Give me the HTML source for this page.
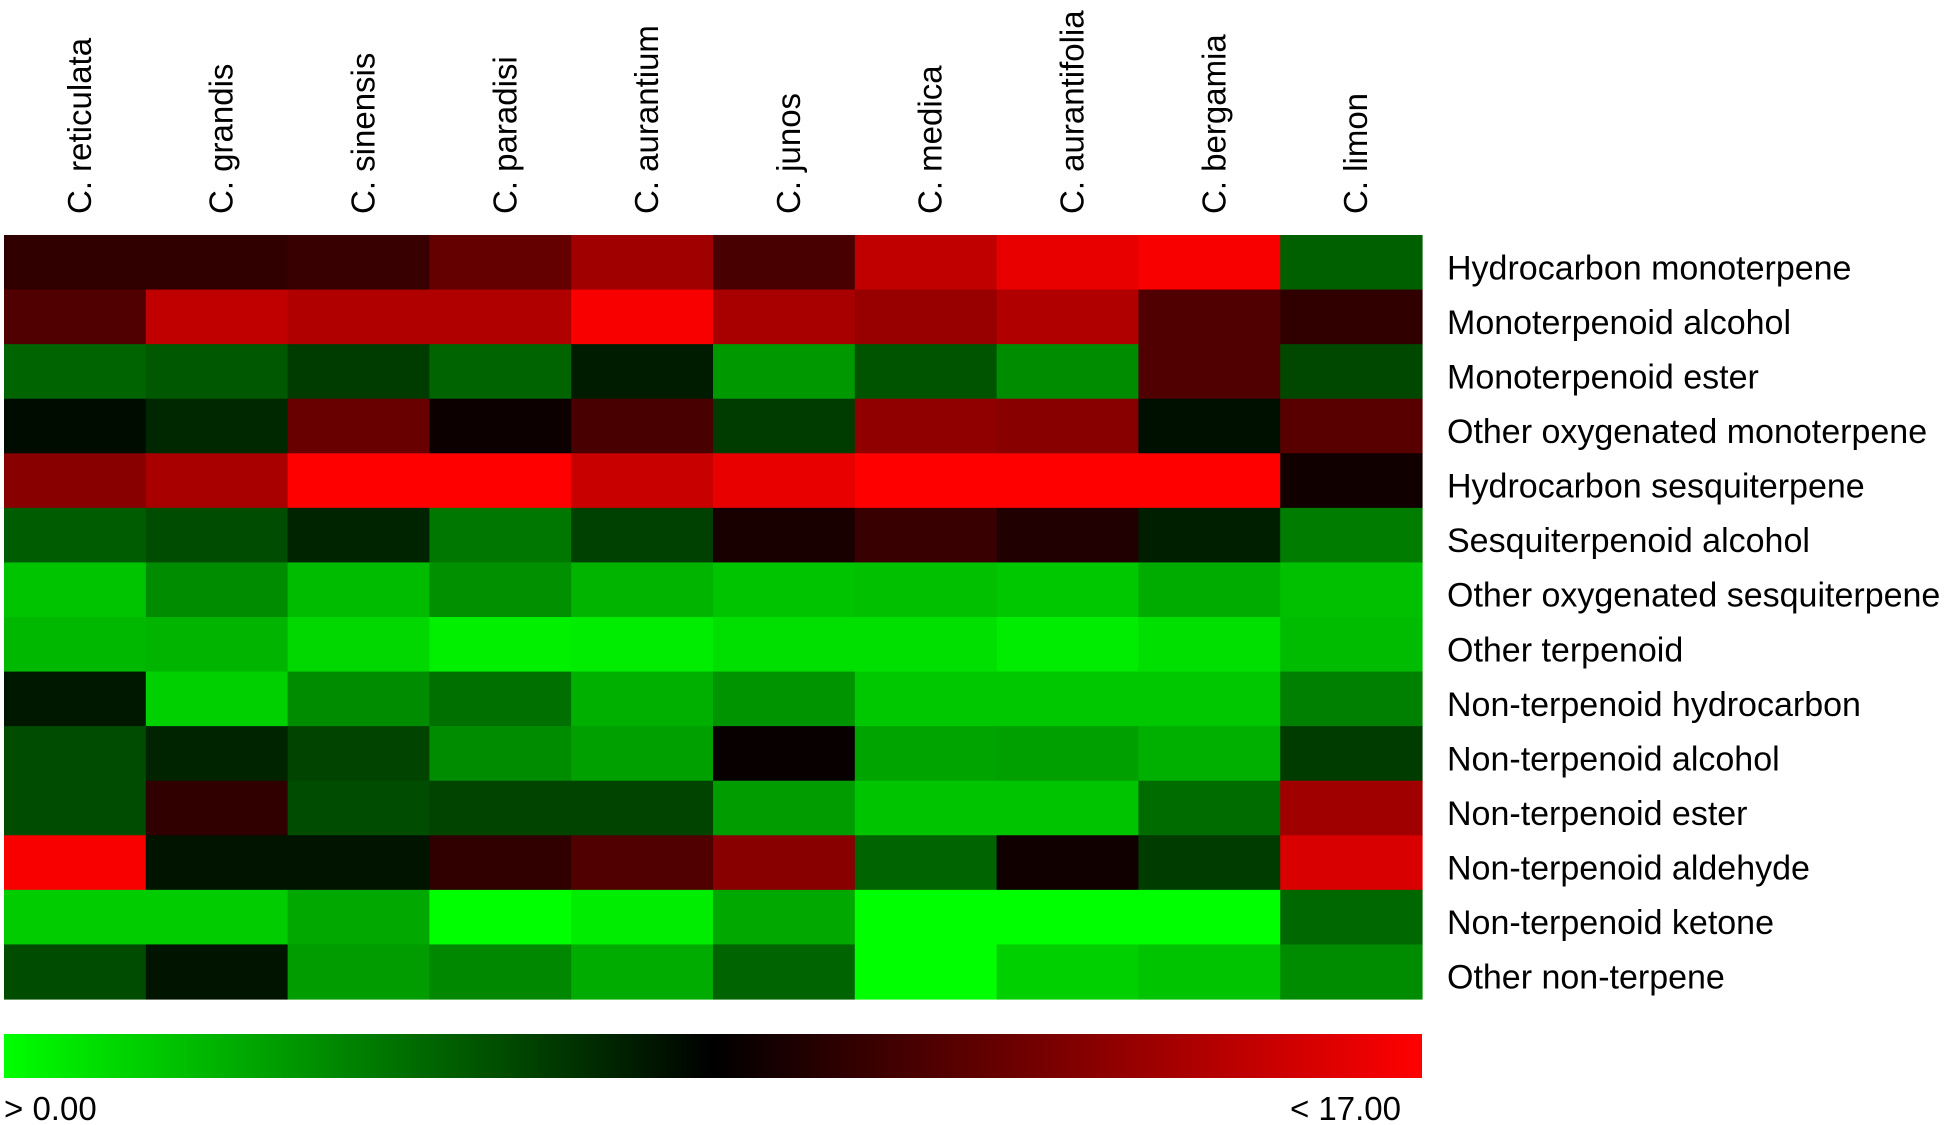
<!DOCTYPE html>
<html><head><meta charset="utf-8"><style>
html,body{margin:0;padding:0;background:#fff;width:1954px;height:1125px;overflow:hidden}
svg{display:block}
text{font-family:"Liberation Sans",Arial,sans-serif;font-size:33px;fill:#000}
text.r{font-size:34px}
</style></head><body>
<svg width="1954" height="1125" viewBox="0 0 1954 1125" xmlns="http://www.w3.org/2000/svg">
<defs><linearGradient id="g" x1="0" x2="1" y1="0" y2="0">
<stop offset="0" stop-color="#00ff00"/><stop offset="0.5" stop-color="#000000"/><stop offset="1" stop-color="#ff0000"/></linearGradient></defs>
<g id="cells"></g>
<g id="cols"></g>
<g id="rows"></g>
<rect x="4" y="1034" width="1418" height="44" fill="url(#g)"/>
<text x="4" y="1120">&gt; 0.00</text>
<text x="1401" y="1120" text-anchor="end">&lt; 17.00</text>
</svg>
<script>
var C=[
["#300000","#300000","#380000","#640000","#a00000","#480000","#c00000","#e80000","#f80000","#006000"],
["#500000","#c00000","#b00000","#b00000","#f80000","#a80000","#980000","#b00000","#500000","#300000"],
["#006400","#005800","#003c00","#006400","#001c00","#009800","#005400","#008c00","#500000","#004800"],
["#000c00","#002800","#680000","#0c0000","#480000","#003c00","#900000","#880000","#001000","#580000"],
["#880000","#a80000","#ff0000","#ff0000","#c80000","#e80000","#ff0000","#ff0000","#ff0000","#100000"],
["#005c00","#004c00","#002400","#007800","#004000","#180000","#380000","#200000","#001e00","#007c00"],
["#00c400","#008c00","#00bc00","#009000","#00b400","#00c400","#00c000","#00c800","#00ac00","#00c000"],
["#00b800","#00b400","#00d800","#00f000","#00ec00","#00e000","#00e000","#00ec00","#00e000","#00bc00"],
["#001800","#00d000","#008c00","#007000","#00b000","#009400","#00c800","#00c800","#00c800","#008000"],
["#004c00","#002400","#004400","#008c00","#00a000","#080000","#00a400","#00a000","#00b000","#003c00"],
["#004c00","#300000","#004c00","#004400","#004400","#009c00","#00c400","#00c400","#006c00","#a00000"],
["#f80000","#001400","#001400","#300000","#500000","#880000","#006400","#100000","#003c00","#d80000"],
["#00cc00","#00cc00","#00a800","#00ff00","#00ec00","#00a800","#00ff00","#00ff00","#00ff00","#006800"],
["#004c00","#001400","#009c00","#008800","#00ac00","#006400","#00ff00","#00d000","#00c400","#008c00"]];
var cols=["C. reticulata","C. grandis","C. sinensis","C. paradisi","C. aurantium","C. junos","C. medica","C. aurantifolia","C. bergamia","C. limon"];
var rows=["Hydrocarbon monoterpene","Monoterpenoid alcohol","Monoterpenoid ester","Other oxygenated monoterpene","Hydrocarbon sesquiterpene","Sesquiterpenoid alcohol","Other oxygenated sesquiterpene","Other terpenoid","Non-terpenoid hydrocarbon","Non-terpenoid alcohol","Non-terpenoid ester","Non-terpenoid aldehyde","Non-terpenoid ketone","Other non-terpene"];
var x0=4,y0=235,cw=141.8,rh=54.57,s="",c="",r="";
for(var i=0;i<14;i++)for(var j=0;j<10;j++)
 s+='<rect x="'+(x0+j*cw)+'" y="'+(y0+i*rh)+'" width="'+(cw+0.6)+'" height="'+(rh+0.6)+'" fill="'+C[i][j]+'"/>';
for(var j=0;j<10;j++){var cx=x0+j*cw+cw/2+16;
 c+='<text transform="translate('+cx+',214) rotate(-90)">'+cols[j]+'</text>';}
for(var i=0;i<14;i++){var cy=y0+i*rh+rh/2+17;
 r+='<text class="r" x="1447" y="'+cy+'">'+rows[i]+'</text>';}
document.getElementById("cells").innerHTML=s;
document.getElementById("cols").innerHTML=c;
document.getElementById("rows").innerHTML=r;
</script>
</body></html>
